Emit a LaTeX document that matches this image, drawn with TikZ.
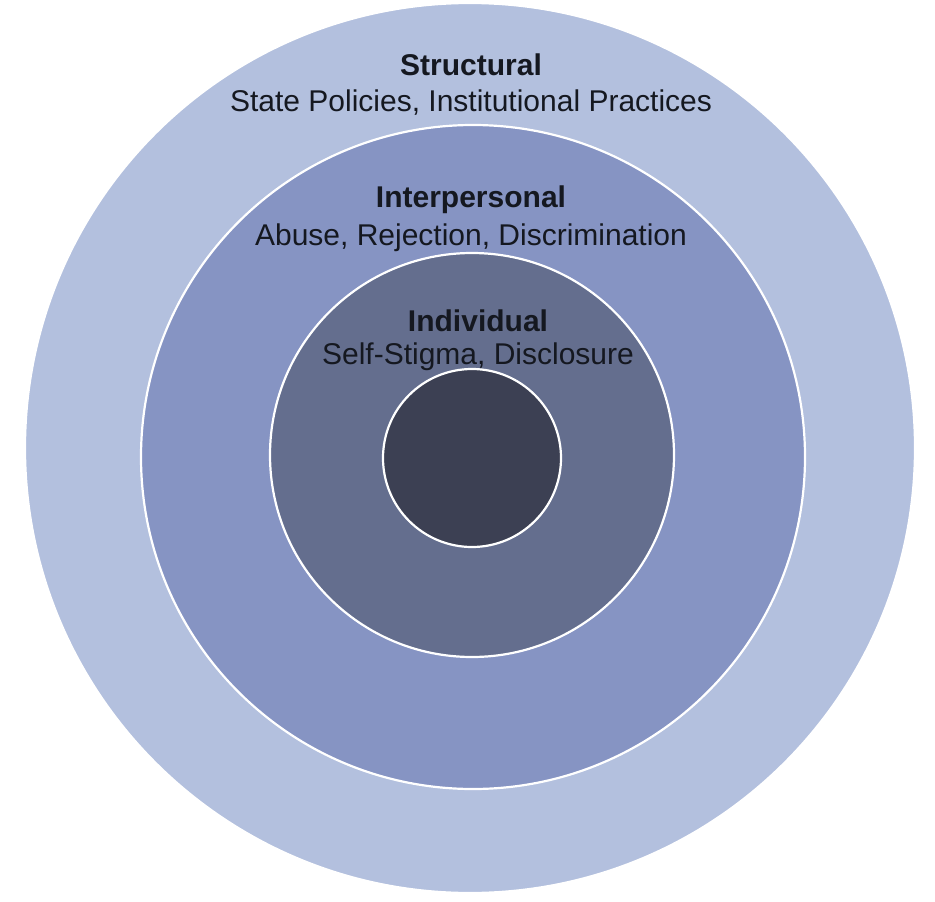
\documentclass[tikz,border=0pt]{standalone}
\usepackage{fontspec}
\setmainfont{Liberation Sans}
\definecolor{ringA}{HTML}{B3C0DE}
\definecolor{ringB}{HTML}{8694C3}
\definecolor{ringC}{HTML}{646E8E}
\definecolor{ringD}{HTML}{3C4053}
\definecolor{txt}{HTML}{151820}
\begin{document}
\begin{tikzpicture}[x=1pt,y=-1pt,
  ring/.style={circle, draw=white, line width=2.2pt, inner sep=0pt},
  head/.style={anchor=base, text=txt, font=\fontsize{30}{34}\selectfont\bfseries, inner sep=0pt},
  sub/.style={anchor=base, text=txt, font=\fontsize{30}{34}\selectfont, inner sep=0pt}]
\useasboundingbox[fill=white] (0,0) rectangle (935,902);
\node[ring, fill=ringA, minimum size=890pt] (structural) at (470,448) {};
\node[ring, fill=ringB, minimum size=664pt] (interpersonal) at (473,457) {};
\node[ring, fill=ringC, minimum size=404pt] (individual) at (472,455) {};
\node[ring, fill=ringD, minimum size=178pt] (core) at (472,458) {};
\node[head] (t1) at (471,75) {Structural};
\node[sub] (s1) at (471,111) {State Policies, Institutional Practices};
\node[head] (t2) at (471,207) {Interpersonal};
\node[sub] (s2) at (471,245) {Abuse, Rejection, Discrimination};
\node[head] (t3) at (478,331) {Individual};
\node[sub] (s3) at (478,364) {Self-Stigma, Disclosure};
\end{tikzpicture}
\end{document}
